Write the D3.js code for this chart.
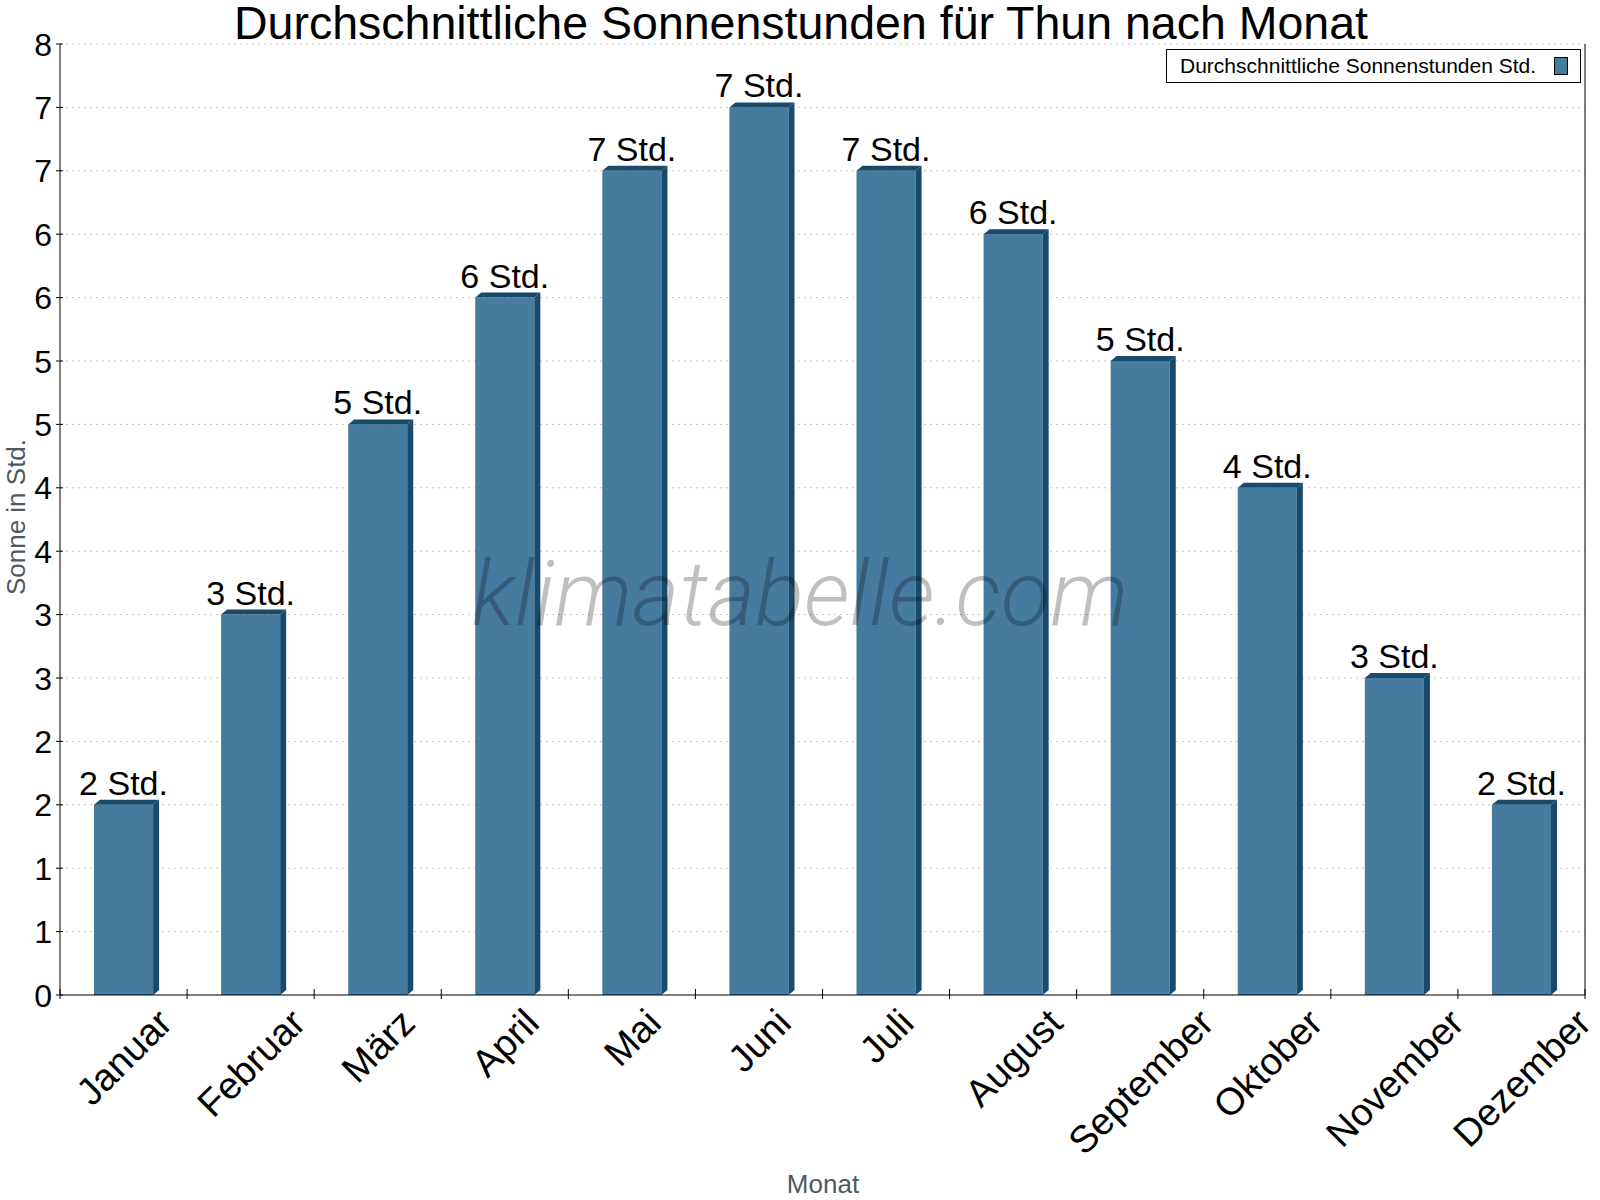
<!DOCTYPE html>
<html><head><meta charset="utf-8">
<script src="https://cdn.jsdelivr.net/npm/d3@7"></script>
<style>body{margin:0;background:#fff}</style></head><body>
<svg id="c" width="1600" height="1200"></svg>
<script>
const titleText = "Durchschnittliche Sonnenstunden für Thun nach Monat";
const months = ["Januar","Februar","März","April","Mai","Juni","Juli","August","September","Oktober","November","Dezember"];
const sunHours = [1.5, 3, 4.5, 5.5, 6.5, 7, 6.5, 6, 5, 4, 2.5, 1.5];
const yTickValues = [0,0.5,1,1.5,2,2.5,3,3.5,4,4.5,5,5.5,6,6.5,7,7.5];
const seriesName = "Durchschnittliche Sonnenstunden Std.";
const yLabel = "Sonne in Std.";
const xLabel = "Monat";
const watermark = "klimatabelle.com";

const FONT = "'Liberation Sans', Arial, Helvetica, sans-serif";
const front = "#467ba0", side = "#184a6b";
const L = 60, R = 1585, T = 44, B = 995;
const svg = d3.select("#c").style("font-family", FONT);

const x = d3.scaleBand().domain(months).range([L, R]).padding(0);
const y = d3.scaleLinear().domain([0, 7.5]).range([B, T]);

// gridlines
svg.append("g").selectAll("line").data(yTickValues.filter(v => v > 0)).join("line")
  .attr("x1", L).attr("x2", R).attr("y1", d => y(d)).attr("y2", d => y(d))
  .attr("stroke", "#c4c4c4").attr("stroke-width", 1).attr("stroke-dasharray", "2,4");

// title
svg.append("text").attr("x", 801).attr("y", 39).attr("text-anchor", "middle")
  .attr("font-size", 46.5).attr("fill", "#000").text(titleText);

// bars
const bw = x.bandwidth() * 0.465, dx = 6, dy = 5;
const bars = svg.append("g").selectAll("g").data(sunHours).join("g");
bars.each(function(v, i) {
  const g = d3.select(this);
  const cx = x(months[i]) + x.bandwidth() / 2;
  const x0 = cx - bw / 2, x1 = cx + bw / 2, top = y(v), base = y(0);
  g.append("rect").attr("x", x0).attr("y", top).attr("width", bw).attr("height", base - top).attr("fill", front);
  g.append("path").attr("d", `M${x1},${top}L${x1+dx},${top-dy}L${x1+dx},${base-dy}L${x1},${base}Z`).attr("fill", side);
  g.append("path").attr("d", `M${x0},${top}L${x0+dx},${top-dy}L${x1+dx},${top-dy}L${x1},${top}Z`).attr("fill", side);
  g.append("text").attr("x", cx).attr("y", top - 10).attr("text-anchor", "middle")
    .attr("font-size", 34).attr("fill", "#000").text(Math.round(v) + " Std.");
});

// watermark
const wm = svg.append("text").attr("x", 800).attr("y", 625).attr("text-anchor", "middle")
  .attr("font-family", "Roboto, 'Open Sans', sans-serif").attr("font-weight", 300).attr("font-style", "italic")
  .attr("font-size", 92).attr("fill", "#000").attr("fill-opacity", 0.25).text(watermark);
const wl = wm.node().getComputedTextLength();
wm.attr("font-size", 92 * 657 / wl);

// y axis
const ya = svg.append("g");
ya.append("line").attr("x1", L).attr("x2", L).attr("y1", T).attr("y2", B).attr("stroke", "#000");
ya.append("line").attr("x1", R).attr("x2", R).attr("y1", T).attr("y2", B).attr("stroke", "#000");
ya.selectAll("line.t").data(yTickValues).join("line").attr("class", "t")
  .attr("x1", L - 4).attr("x2", L + 3).attr("y1", d => y(d)).attr("y2", d => y(d)).attr("stroke", "#000");
ya.selectAll("text").data(yTickValues).join("text")
  .attr("x", L - 8).attr("y", d => y(d)).attr("dy", "0.36em").attr("text-anchor", "end")
  .attr("font-size", 32).attr("fill", "#000").text(d => Math.round(d));

// x axis
const xa = svg.append("g");
xa.append("line").attr("x1", L).attr("x2", R).attr("y1", B).attr("y2", B).attr("stroke", "#000");
xa.selectAll("line.t").data(d3.range(months.length + 1)).join("line").attr("class", "t")
  .attr("x1", i => L + i * x.step()).attr("x2", i => L + i * x.step())
  .attr("y1", B - 6).attr("y2", B + 4).attr("stroke", "#000");
const c45 = Math.SQRT1_2;
xa.selectAll("text").data(months).join("text")
  .attr("text-anchor", "middle").attr("font-size", 38).attr("fill", "#000")
  .text(d => d)
  .each(function(d) {
    const len = this.getComputedTextLength();
    const cx = x(d) + x.bandwidth() / 2;
    const h = 27;
    const cy = 1006 + (len + h) / 2 * c45;
    d3.select(this).attr("transform", `translate(${cx},${cy}) rotate(-45)`).attr("dy", "0.36em");
  });

// axis titles
svg.append("text").attr("transform", `translate(25,517) rotate(-90)`).attr("text-anchor", "middle")
  .attr("font-size", 26).attr("fill", "#4f5862").text(yLabel);
svg.append("text").attr("x", 823).attr("y", 1193).attr("text-anchor", "middle")
  .attr("font-size", 26).attr("fill", "#4f5862").text(xLabel);

// legend
const lg = svg.append("g");
lg.append("rect").attr("x", 1166.5).attr("y", 49.5).attr("width", 414).attr("height", 33)
  .attr("fill", "#fff").attr("stroke", "#000");
lg.append("text").attr("x", 1180).attr("y", 73).attr("font-size", 21).attr("fill", "#000").text(seriesName);
lg.append("rect").attr("x", 1554.5).attr("y", 57.5).attr("width", 13).attr("height", 17)
  .attr("fill", front).attr("stroke", "#000");
</script></body></html>
